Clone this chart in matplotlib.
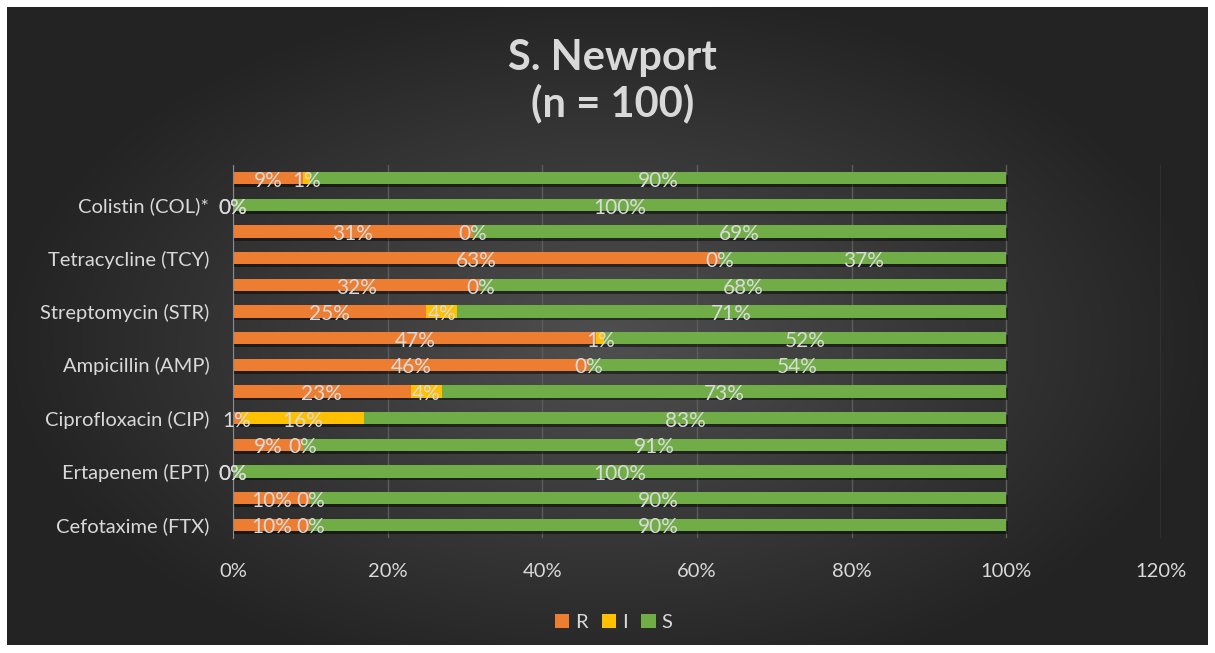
import numpy as np
import matplotlib
matplotlib.use('Agg')
import matplotlib.pyplot as plt
import matplotlib.patheffects as pe

plt.rcParams['font.family'] = ['Lato', 'DejaVu Sans']

# bottom to top; every other row has no name on the axis
drugs = ['Cefotaxime (FTX)', '', 'Ertapenem (EPT)', '', 'Ciprofloxacin (CIP)', '',
         'Ampicillin (AMP)', '', 'Streptomycin (STR)', '', 'Tetracycline (TCY)', '',
         'Colistin (COL)*', '']
R = [10, 10, 0, 9, 1, 23, 46, 47, 25, 32, 63, 31, 0, 9]
I = [0, 0, 0, 0, 16, 4, 0, 1, 4, 0, 0, 0, 0, 1]
S = [90, 90, 100, 91, 83, 73, 54, 52, 71, 68, 37, 69, 100, 90]

colors = {'R': '#ED7D31', 'I': '#FFC000', 'S': '#70AD47'}
txt = '#d9d9d9'

fig = plt.figure(figsize=(12.15, 6.53), dpi=100, facecolor='white')

# dark radial background inside a thin white frame
bg = fig.add_axes([7/1215, 8/653, 1201/1215, 638/653])
gx, gy = np.meshgrid(np.linspace(-1, 1, 400), np.linspace(-1, 1, 220))
dist = np.sqrt((gx / 1.0) ** 2 + ((gy - 0.05) / 1.1) ** 2)
shade = np.clip(0.31 - 0.17 * dist, 0.14, 0.31)
bg.imshow(np.dstack([shade] * 3), aspect='auto', extent=[0, 1, 0, 1])
bg.axis('off')

ax = fig.add_axes([233/1215, 1 - 538/653, (1161 - 233)/1215, (538 - 165)/653])
ax.patch.set_alpha(0)

y = np.arange(len(drugs))
r = np.array(R) / 100
i = np.array(I) / 100
s = np.array(S) / 100
shadow = [pe.SimplePatchShadow(offset=(1, -2), shadow_rgbFace='black', alpha=0.45), pe.Normal()]
h = 0.46
for vals, left, key in [(r, 0, 'R'), (i, r, 'I'), (s, r + i, 'S')]:
    bars = ax.barh(y, vals, left=left, height=h, color=colors[key], label=key, zorder=3)
    for b in bars:
        b.set_path_effects(shadow)
    for yy, v, l in zip(y, vals, np.broadcast_to(left, vals.shape)):
        ax.text(l + v / 2, yy - 0.1, f'{round(v * 100)}%', ha='center', va='center',
                color=txt, fontsize=15, zorder=5)

ax.set_xlim(0, 1.2)
ax.set_ylim(-0.5, len(drugs) - 0.5)
ax.set_xticks(np.arange(0, 1.21, 0.2))
ax.set_xticklabels([f'{p}%' for p in range(0, 121, 20)])
ax.set_yticks(y)
ax.set_yticklabels(drugs)
ax.tick_params(colors=txt, labelsize=14.5, length=0)
ax.tick_params(axis='x', pad=18)
ax.tick_params(axis='y', pad=17)
ax.grid(axis='x', color='#5c5c5c', linewidth=1, zorder=0)
for sp in ['top', 'right', 'bottom']:
    ax.spines[sp].set_visible(False)
ax.spines['left'].set_color('#8a8a8a')
ax.spines['left'].set_zorder(4)

fig.text(0.504, 0.876, 'S. Newport\n(n = 100)', ha='center', va='center',
         color=txt, fontsize=30, fontweight='bold', linespacing=1.2)

leg = fig.legend(loc='center', bbox_to_anchor=(0.505, 0.047), ncol=3, frameon=False,
                 fontsize=14.5, handlelength=0.7, handleheight=0.7, handletextpad=0.3,
                 columnspacing=0.7, labelcolor=txt)
for p in leg.get_patches():
    p.set_path_effects([])

fig.savefig('out.png', dpi=100, facecolor='white')
